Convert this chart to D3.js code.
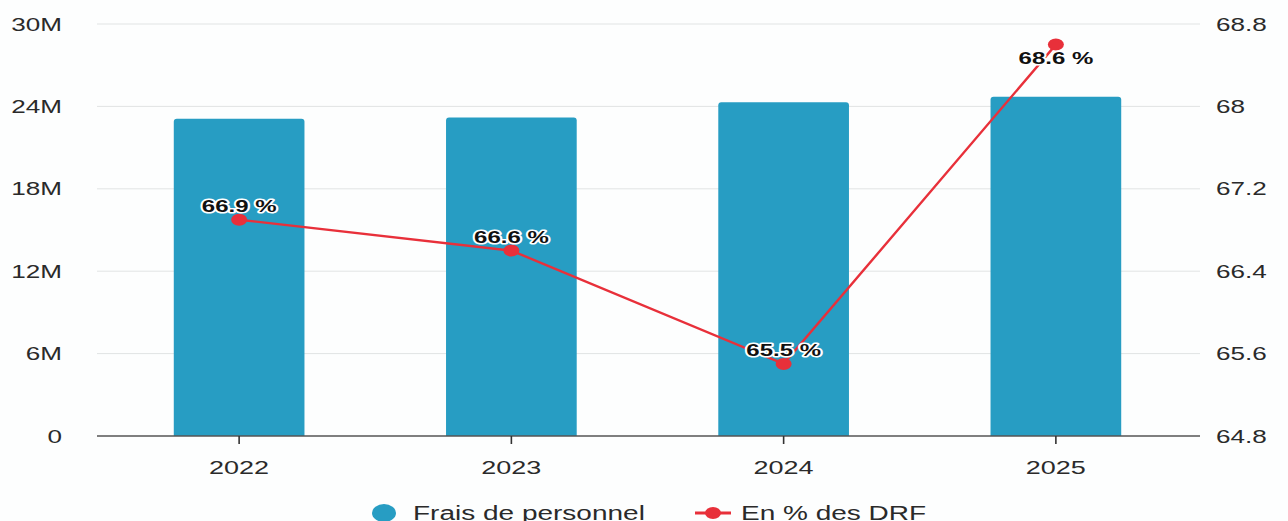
<!DOCTYPE html>
<html><head><meta charset="utf-8">
<script src="https://cdn.jsdelivr.net/npm/d3@7"></script>
<style>html,body{margin:0;padding:0;background:#fdfefe;}svg{display:block;font-family:"Liberation Sans",Arial,sans-serif;}</style>
</head><body>
<svg id="c" width="1288" height="521"></svg>
<script>
const categories = ["2022","2023","2024","2025"];
const fraisPersonnel = [23100000, 23200000, 24300000, 24700000];
const pctDRF = [66.9, 66.6, 65.5, 68.6];
const leftTicks = [0, 6e6, 12e6, 18e6, 24e6, 30e6];
const rightTicks = [64.8, 65.6, 66.4, 67.2, 68, 68.8];
const seriesNames = ["Frais de personnel", "En % des DRF"];

const svg = d3.select("#c");
const plotTop = 24, plotBottom = 436, plotLeft = 97, plotRight = 1200;
const SX = 1.45; // horizontal stretch of the reference text
const x = d3.scaleBand().domain(categories).range([103, 1192]).paddingInner(0.52).paddingOuter(0.26);
const yL = d3.scaleLinear().domain([0, 30e6]).range([plotBottom, plotTop]);
const yR = d3.scaleLinear().domain([64.8, 68.8]).range([plotBottom, plotTop]);

function stretched(sel, fx, fy, sx) {
  sel.attr("x", 0).attr("y", 0)
     .attr("transform", (d, i) => `translate(${fx(d, i)},${fy(d, i)}) scale(${sx},1)`);
}

// gridlines
svg.append("g").selectAll("line").data(leftTicks.slice(1)).join("line")
  .attr("x1", plotLeft).attr("x2", plotRight)
  .attr("y1", d => yL(d)).attr("y2", d => yL(d))
  .attr("stroke", "#e1e4e4").attr("stroke-width", 1);

// left axis labels
svg.append("g").selectAll("text").data(leftTicks).join("text")
  .call(stretched, () => 62, d => yL(d) + 6.5, SX)
  .attr("text-anchor", "end").attr("font-size", 18).attr("fill", "#2a2a2a")
  .text(d => d === 0 ? "0" : (d / 1e6) + "M");

// right axis labels
svg.append("g").selectAll("text").data(rightTicks).join("text")
  .call(stretched, () => 1216, d => yR(d) + 6.5, SX)
  .attr("text-anchor", "start").attr("font-size", 18).attr("fill", "#2a2a2a")
  .text(d => d3.format("~g")(d));

// bars
const bw = x.bandwidth();
svg.append("g").selectAll("path").data(categories).join("path")
  .attr("fill", "#279dc3")
  .attr("d", (c, i) => {
    const x0 = x(c), y0 = yL(fraisPersonnel[i]), h = yL(0) - y0, r = 3;
    return `M${x0},${y0 + h}V${y0 + r}Q${x0},${y0} ${x0 + r},${y0}H${x0 + bw - r}Q${x0 + bw},${y0} ${x0 + bw},${y0 + r}V${y0 + h}Z`;
  });

// x axis
const cx = c => x(c) + bw / 2;
const xAxis = svg.append("g").attr("transform", `translate(0,${plotBottom})`);
xAxis.append("line").attr("x1", plotLeft).attr("x2", plotRight).attr("stroke", "#555").attr("stroke-width", 1.5);
xAxis.selectAll("line.t").data(categories).join("line").attr("class", "t")
  .attr("x1", cx).attr("x2", cx)
  .attr("y1", 0).attr("y2", 8).attr("stroke", "#333").attr("stroke-width", 1.6);
xAxis.selectAll("text").data(categories).join("text")
  .call(stretched, c => cx(c), () => 38, 1.42)
  .attr("text-anchor", "middle").attr("font-size", 19).attr("fill", "#2a2a2a")
  .text(c => c);

// line
const line = d3.line().x((d, i) => cx(categories[i])).y(d => yR(d));
svg.append("path").datum(pctDRF).attr("d", line)
  .attr("fill", "none").attr("stroke", "#e8303a").attr("stroke-width", 2.4);
svg.append("g").selectAll("ellipse").data(pctDRF).join("ellipse")
  .attr("cx", (d, i) => cx(categories[i])).attr("cy", d => yR(d))
  .attr("rx", 8).attr("ry", 6).attr("fill", "#e8303a");

// labels
svg.append("g").selectAll("text").data(pctDRF).join("text")
  .call(stretched, (d, i) => cx(categories[i]),
        d => yR(d) - 18 < plotTop + 5 ? yR(d) + 19 : yR(d) - 8, 1.5)
  .attr("text-anchor", "middle").attr("font-size", 16).attr("font-weight", "bold")
  .attr("fill", "#111").attr("stroke", "#fff").attr("stroke-width", 3)
  .attr("paint-order", "stroke").attr("stroke-linejoin", "round")
  .text(d => d3.format(".1f")(d) + " %");

// legend
const lg = svg.append("g");
lg.append("ellipse").attr("cx", 384).attr("cy", 513).attr("rx", 12).attr("ry", 9).attr("fill", "#279dc3");
lg.append("text").attr("transform", "translate(413,520) scale(1.4,1)")
  .attr("font-size", 20).attr("fill", "#2a2a2a").text(seriesNames[0]);
lg.append("line").attr("x1", 695).attr("x2", 731).attr("y1", 513).attr("y2", 513).attr("stroke", "#e8303a").attr("stroke-width", 3);
lg.append("ellipse").attr("cx", 713).attr("cy", 513).attr("rx", 8).attr("ry", 6).attr("fill", "#e8303a");
lg.append("text").attr("transform", "translate(741,520) scale(1.4,1)")
  .attr("font-size", 20).attr("fill", "#2a2a2a").text(seriesNames[1]);
</script>
</body></html>
